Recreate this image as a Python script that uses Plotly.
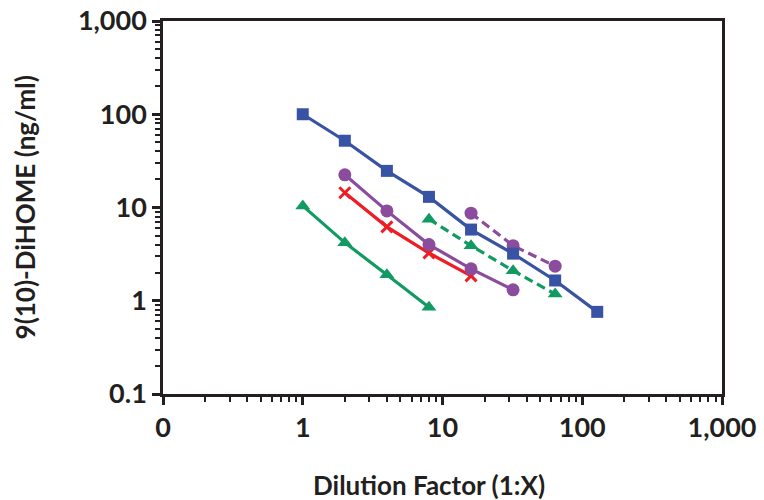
import plotly.graph_objects as go

# Data
dil_blue = [1, 2, 4, 8, 16, 32, 64, 128]
val_blue = [100, 52, 24.7, 13.0, 5.8, 3.2, 1.65, 0.76]

dil_purple = [2, 4, 8, 16, 32]
val_purple = [22.4, 9.2, 4.0, 2.2, 1.31]

dil_red = [2, 4, 8, 16]
val_red = [14.4, 6.2, 3.25, 1.85]

dil_green = [1, 2, 4, 8]
val_green = [10.4, 4.2, 1.9, 0.85]

dil_green_d = [8, 16, 32, 64]
val_green_d = [7.5, 3.9, 2.1, 1.18]

dil_purple_d = [16, 32, 64]
val_purple_d = [8.7, 3.9, 2.35]

tick_vals = [0.1, 1, 10, 100, 1000]
x_tick_text = ["0", "1", "10", "100", "1,000"]
y_tick_text = ["0.1", "1", "10", "100", "1,000"]

BLUE = "#3953A4"
PURPLE = "#8B4C9E"
RED = "#EE1C25"
GREEN = "#129A63"
AX = "#231F20"

fig = go.Figure()

def add(x, y, color, symbol, dash="solid", size=12):
    fig.add_trace(go.Scatter(
        x=x, y=y, mode="lines+markers",
        line=dict(color=color, width=3.2, dash=dash),
        marker=dict(color=color, symbol=symbol, size=size,
                    line=dict(width=0)),
        showlegend=False))

add(dil_green, val_green, GREEN, "triangle-up", size=13)
add(dil_red, val_red, RED, "x-thin", size=11)
fig.data[-1].marker.line = dict(color=RED, width=3)
add(dil_purple, val_purple, PURPLE, "circle", size=13)
add(dil_green_d, val_green_d, GREEN, "triangle-up", dash="9px,5px", size=13)
add(dil_purple_d, val_purple_d, PURPLE, "circle", dash="9px,5px", size=13)
add(dil_blue, val_blue, BLUE, "square", size=12)

font_fam = "Lato"
axis_common = dict(
    type="log", range=[-1, 3],
    tickvals=tick_vals,
    showgrid=False, zeroline=False, automargin=False,
    ticklabeloverflow="allow",
    showline=True, linecolor=AX, linewidth=2.5, mirror=True,
    ticks="outside", ticklen=8, tickwidth=2.5, tickcolor=AX,
    tickfont=dict(family=font_fam, size=27, color=AX, weight="bold"),
    minor=dict(ticks="outside", ticklen=5, tickwidth=2, tickcolor=AX,
               dtick="D1", showgrid=False),
)

fig.update_layout(
    width=764, height=500,
    margin=dict(l=163, r=42, t=21, b=106),
    paper_bgcolor="white", plot_bgcolor="white",
    xaxis=dict(**axis_common, ticktext=x_tick_text),
    yaxis=dict(**axis_common, ticktext=y_tick_text),
    annotations=[
        dict(text="Dilution Factor (1:X)", xref="paper", yref="paper",
             x=0.476, y=-0.245, xanchor="center", yanchor="middle",
             showarrow=False,
             font=dict(family=font_fam, size=26, color=AX, weight="bold")),
        dict(text="9(10)-DiHOME (ng/ml)", xref="paper", yref="paper",
             x=-0.247, y=0.5, xanchor="center", yanchor="middle",
             textangle=-90, showarrow=False,
             font=dict(family=font_fam, size=26, color=AX, weight="bold")),
    ],
)

fig.write_html(
    "out.html",
    config={"displayModeBar": False},
    post_script="document.body.style.margin='0';document.body.style.overflow='hidden';",
)
